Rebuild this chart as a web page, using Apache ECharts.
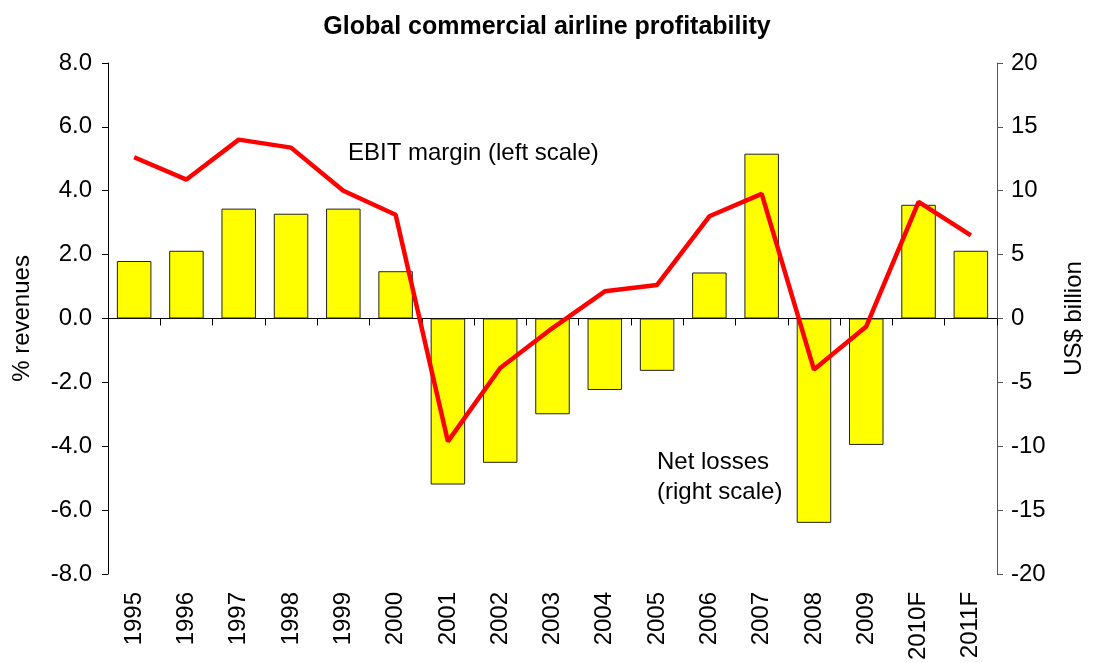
<!DOCTYPE html>
<html>
<head>
<meta charset="utf-8">
<title>Global commercial airline profitability</title>
<script src="https://cdn.jsdelivr.net/npm/echarts@6/dist/echarts.min.js"></script>
<style>
html,body{margin:0;padding:0;background:#fff;}
#chart{width:1094px;height:663px;}
</style>
</head>
<body>
<div id="chart"></div>
<script>
// data
var years = ['1995','1996','1997','1998','1999','2000','2001','2002','2003','2004','2005','2006','2007','2008','2009','2010F','2011F'];
// net profit / losses, US$ billion (right scale)
var netProfit = [4.5, 5.3, 8.6, 8.2, 8.6, 3.7, -13.0, -11.3, -7.5, -5.6, -4.1, 3.6, 12.9, -16.0, -9.9, 8.9, 5.3];
// EBIT margin, % revenues (left scale)
var ebitMargin = [5.05, 4.35, 5.6, 5.35, 4.0, 3.25, -3.85, -1.55, -0.3, 0.85, 1.05, 3.2, 3.9, -1.6, -0.25, 3.65, 2.6];

var chart = echarts.init(document.getElementById('chart'));
window.onresize = chart.resize;

var font = 'Liberation Sans, Arial, sans-serif';

chart.setOption({
	animation: false,
	textStyle: {fontFamily: font},
	title: {
		text: 'Global commercial airline profitability',
		left: 'center',
		top: 10,
		textStyle: {fontSize: 25, fontWeight: 'bold', color: '#000', fontFamily: font}
	},
	grid: {left: 108, right: 94, top: 63, bottom: 89},
	xAxis: [{
		// axis line at zero with ticks between the bars
		type: 'category',
		data: years,
		axisLine: {onZero: true, lineStyle: {color: '#000', width: 1}},
		axisTick: {show: true, length: 7, inside: false, lineStyle: {color: '#000'}},
		axisLabel: {show: false}
	}, {
		// labels at the bottom
		type: 'category',
		data: years,
		position: 'bottom',
		axisLine: {show: false, onZero: false},
		axisTick: {show: false},
		axisLabel: {rotate: 90, fontSize: 24, color: '#000', margin: 18}
	}],
	yAxis: [{
		type: 'value',
		name: '% revenues',
		nameLocation: 'middle',
		nameRotate: 90,
		nameGap: 74,
		nameTextStyle: {fontSize: 24, color: '#000'},
		min: -8, max: 8, interval: 2,
		axisLine: {show: true, lineStyle: {color: '#000'}},
		axisTick: {show: true, length: 6, lineStyle: {color: '#000'}},
		axisLabel: {fontSize: 24, color: '#000', margin: 16, formatter: function(v){ return v.toFixed(1); }},
		splitLine: {show: false}
	}, {
		type: 'value',
		name: 'US$ billion',
		nameLocation: 'middle',
		nameRotate: 90,
		nameGap: 65,
		nameTextStyle: {fontSize: 24, color: '#000'},
		min: -20, max: 20, interval: 5,
		position: 'right',
		axisLine: {show: true, lineStyle: {color: '#555'}},
		axisTick: {show: true, length: 6, lineStyle: {color: '#555'}},
		axisLabel: {fontSize: 24, color: '#000', margin: 14},
		splitLine: {show: false}
	}],
	graphic: [{
		type: 'text', left: 348, top: 141,
		style: {text: 'EBIT margin (left scale)', fontSize: 24, fill: '#000', fontFamily: font}
	}, {
		type: 'text', left: 657, top: 447,
		style: {text: 'Net losses\n(right scale)', fontSize: 24, lineHeight: 30, fill: '#000', fontFamily: font}
	}],
	series: [{
		name: 'Net losses',
		type: 'bar',
		xAxisIndex: 0,
		yAxisIndex: 1,
		barWidth: '66%',
		itemStyle: {color: '#ffff00', borderColor: '#222', borderWidth: 1},
		data: netProfit,
		z: 2
	}, {
		name: 'EBIT margin',
		type: 'line',
		xAxisIndex: 0,
		yAxisIndex: 0,
		symbol: 'none',
		lineStyle: {color: '#ff0000', width: 4.5},
		data: ebitMargin,
		z: 3
	}]
});
</script>
</body>
</html>
